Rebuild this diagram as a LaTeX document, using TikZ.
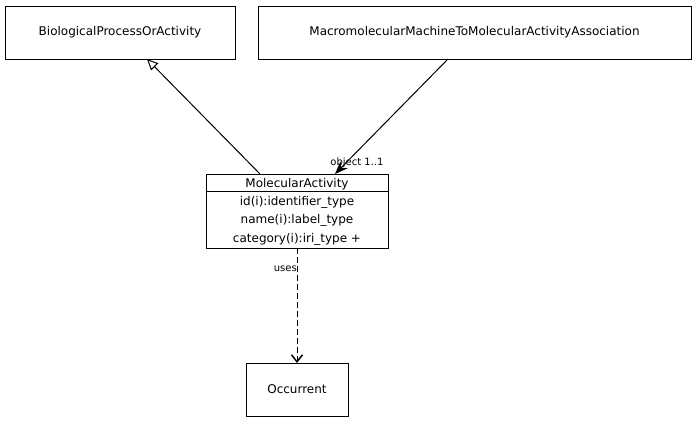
\documentclass[tikz,border=0pt]{standalone}
\usepackage{fontspec}
\setmainfont{DejaVu Sans}
\usetikzlibrary{arrows.meta}
\begin{document}
\begin{tikzpicture}[x=1pt,y=-1pt,
  cls/.style={draw,line width=1pt,minimum height=53pt,inner sep=0pt,font=\fontsize{12}{14}\selectfont},
  lbl/.style={font=\fontsize{10}{12}\selectfont,inner sep=1pt},
  att/.style={font=\fontsize{12}{14}\selectfont,inner sep=0pt,anchor=base}]
\useasboundingbox (0,0) rectangle (696,423);
\node[cls,minimum width=230pt] (bpa) at (120,32.5) {BiologicalProcessOrActivity};
\node[cls,minimum width=433pt] (mm) at (474.5,32.5) {MacromolecularMachineToMolecularActivityAssociation};
\node[cls,minimum width=102pt] (occ) at (297,389.5) {Occurrent};
\draw[line width=1pt] (206,174) rectangle (388,248);
\draw[line width=1pt] (206,191) -- (388,191);
\node[att] (mah) at (297,187) {MolecularActivity};
\node[att] (a1) at (297,205) {id(i):identifier\_type};
\node[att] (a2) at (297,223) {name(i):label\_type};
\node[att] (a3) at (297,242) {category(i):iri\_type +};
\coordinate (mtl) at (260,174);
\coordinate (mtr) at (335,174);
\coordinate (mb) at (297,248);
\coordinate (bpab) at (147,59);
\coordinate (mmb) at (448,59);
\coordinate (occt) at (297,363);
\draw[line width=1pt,-{Triangle[open,length=11pt,width=10pt]}] (mtl) -- (bpab);
\draw[line width=1pt,-{Stealth[length=13pt,width=10pt]}] (mmb) -- (mtr);
\node[lbl,anchor=south] at (357,169) {object 1..1};
\draw[line width=1pt,dash pattern=on 6pt off 3pt,-{Straight Barb[length=7pt,width=11pt,line width=1.5pt]}] (mb) -- (occt);
\node[lbl,anchor=east] at (298,268.5) {uses};
\end{tikzpicture}
\end{document}
